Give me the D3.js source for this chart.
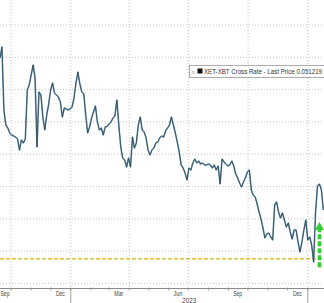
<!DOCTYPE html>
<html>
<head>
<meta charset="utf-8">
<script src="https://cdn.jsdelivr.net/npm/d3@7"></script>
<style>
html,body{margin:0;padding:0;background:#fff;}
svg{display:block;}
text{font-family:"Liberation Sans",Arial,sans-serif;}
</style>
</head>
<body>
<div id="chart"></div>
<script>
// ---- data ----
const dates = [
"2022-09-14","2022-09-17","2022-09-20","2022-09-23","2022-09-26","2022-09-29",
"2022-10-02","2022-10-05","2022-10-08","2022-10-11","2022-10-14","2022-10-17","2022-10-20","2022-10-23","2022-10-26","2022-10-29",
"2022-11-01","2022-11-04","2022-11-07","2022-11-10","2022-11-13","2022-11-16","2022-11-19","2022-11-22","2022-11-25","2022-11-28",
"2022-12-01","2022-12-04","2022-12-07","2022-12-10","2022-12-13","2022-12-16","2022-12-19","2022-12-22","2022-12-25","2022-12-28","2022-12-31",
"2023-01-03","2023-01-06","2023-01-09","2023-01-12","2023-01-15","2023-01-18","2023-01-21","2023-01-24","2023-01-27","2023-01-30",
"2023-02-02","2023-02-05","2023-02-08","2023-02-11","2023-02-14","2023-02-17","2023-02-20","2023-02-23","2023-02-26",
"2023-03-01","2023-03-04","2023-03-07","2023-03-10","2023-03-13","2023-03-16","2023-03-19","2023-03-22","2023-03-25","2023-03-28","2023-03-31",
"2023-04-03","2023-04-06","2023-04-09","2023-04-12","2023-04-15","2023-04-18","2023-04-21","2023-04-24","2023-04-27","2023-04-30",
"2023-05-03","2023-05-06","2023-05-09","2023-05-12","2023-05-15","2023-05-18","2023-05-21","2023-05-24","2023-05-27","2023-05-30",
"2023-06-02","2023-06-05","2023-06-08","2023-06-11","2023-06-14","2023-06-17","2023-06-20","2023-06-23","2023-06-26","2023-06-29",
"2023-07-02","2023-07-05","2023-07-08","2023-07-11","2023-07-14","2023-07-17","2023-07-20","2023-07-23","2023-07-26","2023-07-29",
"2023-08-01","2023-08-04","2023-08-07","2023-08-10","2023-08-13","2023-08-16","2023-08-19","2023-08-22","2023-08-25","2023-08-28","2023-08-31",
"2023-09-03","2023-09-06","2023-09-09","2023-09-12","2023-09-15","2023-09-18","2023-09-21","2023-09-24","2023-09-27","2023-09-30",
"2023-10-03","2023-10-06","2023-10-09","2023-10-12","2023-10-15","2023-10-18","2023-10-21","2023-10-24","2023-10-27","2023-10-30",
"2023-11-02","2023-11-05","2023-11-08","2023-11-11","2023-11-14","2023-11-17","2023-11-20","2023-11-23","2023-11-26","2023-11-29",
"2023-12-02","2023-12-05","2023-12-08","2023-12-11","2023-12-14","2023-12-17","2023-12-20","2023-12-23","2023-12-26","2023-12-29",
"2024-01-01","2024-01-04","2024-01-07","2024-01-10","2024-01-13","2024-01-16","2024-01-19","2024-01-22","2024-01-25"
];
const values = [
0.07989,0.08159,0.07184,0.06952,0.06906,0.06828,
0.06797,0.06782,0.06766,0.06735,0.06565,0.06720,0.06673,0.06735,0.07494,0.07571,
0.07726,0.07881,0.07680,0.06611,0.07463,0.07416,0.07076,0.06875,0.07107,0.07277,
0.07494,0.07602,0.07447,0.07416,0.07385,0.07308,0.07076,0.07215,0.07200,0.07184,0.07200,
0.07231,0.07370,0.07602,0.07772,0.07587,0.07463,0.07432,0.07107,0.06828,0.06921,
0.07060,0.07153,0.07246,0.06998,0.06875,0.06906,0.06797,0.06921,0.06930,
0.06968,0.06998,0.07060,0.07091,0.07339,0.06952,0.06611,0.06441,0.06410,0.06302,0.06441,
0.06302,0.06766,0.06596,0.06673,0.06952,0.07076,0.06875,0.06844,0.06751,0.06565,
0.06488,0.06565,0.06596,0.06673,0.06689,0.06751,0.06782,0.06766,0.06859,0.06906,
0.06952,0.07076,0.06952,0.06828,0.06689,0.06534,0.06333,0.06286,0.06209,0.06101,
0.06286,0.06255,0.06364,0.06426,0.06364,0.06395,0.06348,0.06364,0.06333,0.06333,
0.06348,0.06333,0.06286,0.06333,0.06255,0.06317,0.06039,0.06426,0.06379,0.06348,0.06317,
0.06333,0.06395,0.06317,0.06194,0.06132,0.06054,0.05992,0.06070,0.06132,0.06224,
0.06255,0.05946,0.05868,0.05837,0.05729,0.05605,0.05497,0.05358,0.05203,0.05265,
0.05280,0.05218,0.05172,0.05714,0.05760,0.05605,0.05512,0.05590,0.05481,0.05373,
0.05435,0.05296,0.05187,0.05327,0.05327,0.05141,0.04986,0.05141,0.05327,0.05481,
0.05172,0.05218,0.05094,0.04831,0.05605,0.06008,0.06039,0.05946,0.05636
];
const yGridValues = [0.045,0.050,0.055,0.060,0.065,0.070,0.075,0.080,0.085];
const tickLabelDates = ["2022-09-15","2022-12-16","2023-03-16","2023-06-15","2023-09-15","2023-12-16"];
const tickLabels = ["Sep","Dec","Mar","Jun","Sep","Dec"];
const yearLabels = ["2023"];
const yearStarts = ["2023-01-01","2024-01-01"];
const supportLevel = [0.0488];
const arrowDate = ["2024-01-19"];
const arrowFrom = [0.0475];
const arrowTo = [0.0545];
const legendText = "XET-XBT Cross Rate - Last Price 0.051219";

// ---- drawing ----
const W = 324, H = 303, axisY = 288.5;
const parse = d3.timeParse("%Y-%m-%d");
const data = dates.map((d,i)=>({date:parse(d), value:values[i]}));

const svg = d3.select("#chart").append("svg").attr("width",W).attr("height",H);

const x = d3.scaleTime().domain([parse("2022-09-14"), parse("2024-01-26")]).range([0,W]);
const y = d3.scaleLinear().domain([0.04421,0.08887]).range([axisY,0]);

// horizontal gridlines
svg.append("g").selectAll("line").data(yGridValues).join("line")
  .attr("x1",0).attr("x2",W)
  .attr("y1",d=>y(d)).attr("y2",d=>y(d))
  .attr("stroke","#b8b8b8").attr("stroke-width",0.8).attr("stroke-dasharray","1,2");

// vertical gridlines at quarter starts
const quarters = d3.timeMonth.every(3).range(parse("2022-09-14"), parse("2024-01-26"));
svg.append("g").selectAll("line").data(quarters).join("line")
  .attr("x1",d=>x(d)).attr("x2",d=>x(d))
  .attr("y1",0).attr("y2",axisY)
  .attr("stroke","#b8b8b8").attr("stroke-width",0.8).attr("stroke-dasharray","1,2");

// support dashed line
svg.append("g").selectAll("line").data(supportLevel).join("line")
  .attr("x1",0).attr("x2",W)
  .attr("y1",d=>y(d)).attr("y2",d=>y(d))
  .attr("stroke","#d4b40a").attr("stroke-width",1.3).attr("stroke-dasharray","4,2");

// price line
const line = d3.line().x(d=>x(d.date)).y(d=>y(d.value));
svg.append("path").datum(data).attr("d",line)
  .attr("fill","none").attr("stroke","#6e9fbd").attr("stroke-width",1.6).attr("stroke-linejoin","round");
svg.append("path").datum(data).attr("d",line)
  .attr("fill","none").attr("stroke","#27343b").attr("stroke-width",0.7).attr("stroke-linejoin","round");

// green arrow
const ax = x(parse(arrowDate[0]));
const yTip = y(arrowTo[0]), yBase = y(arrowFrom[0]);
svg.append("line").attr("x1",ax).attr("x2",ax).attr("y1",yBase).attr("y2",yTip+7)
  .attr("stroke","#33cc33").attr("stroke-width",3.6).attr("stroke-dasharray","5,2");
svg.append("path").attr("d",`M${ax-4.5},${yTip+8}L${ax+4.5},${yTip+8}L${ax},${yTip}Z`)
  .attr("fill","#33cc33");

// axis
const axisG = svg.append("g").attr("transform",`translate(0,${axisY})`);
axisG.append("line").attr("x1",0).attr("x2",W).attr("y1",0).attr("y2",0)
  .attr("stroke","#8a8a8a").attr("stroke-width",1);
const months = d3.timeMonth.range(parse("2022-09-14"), parse("2024-01-26"));
axisG.append("g").selectAll("line").data(months).join("line")
  .attr("x1",d=>x(d)).attr("x2",d=>x(d)).attr("y1",-1).attr("y2",2)
  .attr("stroke","#8a8a8a").attr("stroke-width",0.8);
axisG.append("g").selectAll("line").data(yearStarts.map(parse)).join("line")
  .attr("x1",d=>x(d)).attr("x2",d=>x(d)).attr("y1",0).attr("y2",H-axisY)
  .attr("stroke","#8a8a8a").attr("stroke-width",0.8);
axisG.append("g").selectAll("text").data(tickLabelDates).join("text")
  .attr("x",d=>Math.max(5,x(parse(d)))).attr("y",7.5)
  .attr("text-anchor","middle").attr("font-size",6.3).attr("fill","#444")
  .attr("textLength",9).attr("lengthAdjust","spacingAndGlyphs")
  .text((d,i)=>tickLabels[i]);
axisG.append("text")
  .attr("x",(x(parse(yearStarts[0]))+x(parse(yearStarts[1])))/2).attr("y",14)
  .attr("text-anchor","middle").attr("font-size",6.3).attr("fill","#444")
  .attr("textLength",14).attr("lengthAdjust","spacingAndGlyphs")
  .text(yearLabels[0]);

// legend
const lg = svg.append("g");
lg.append("rect").attr("x",189.5).attr("y",65.5).attr("width",140).attr("height",12)
  .attr("fill","#fff").attr("stroke","#9a9a9a").attr("stroke-width",0.8);
lg.append("text").attr("x",192).attr("y",74).attr("font-size",5).attr("fill","#999").text("≡");
lg.append("rect").attr("x",197.5).attr("y",68.5).attr("width",5).attr("height",5).attr("fill","#111");
lg.append("text").attr("x",204).attr("y",73.8).attr("font-size",6.5).attr("fill","#333")
  .attr("textLength",118).attr("lengthAdjust","spacingAndGlyphs").text(legendText);
</script>
</body>
</html>
